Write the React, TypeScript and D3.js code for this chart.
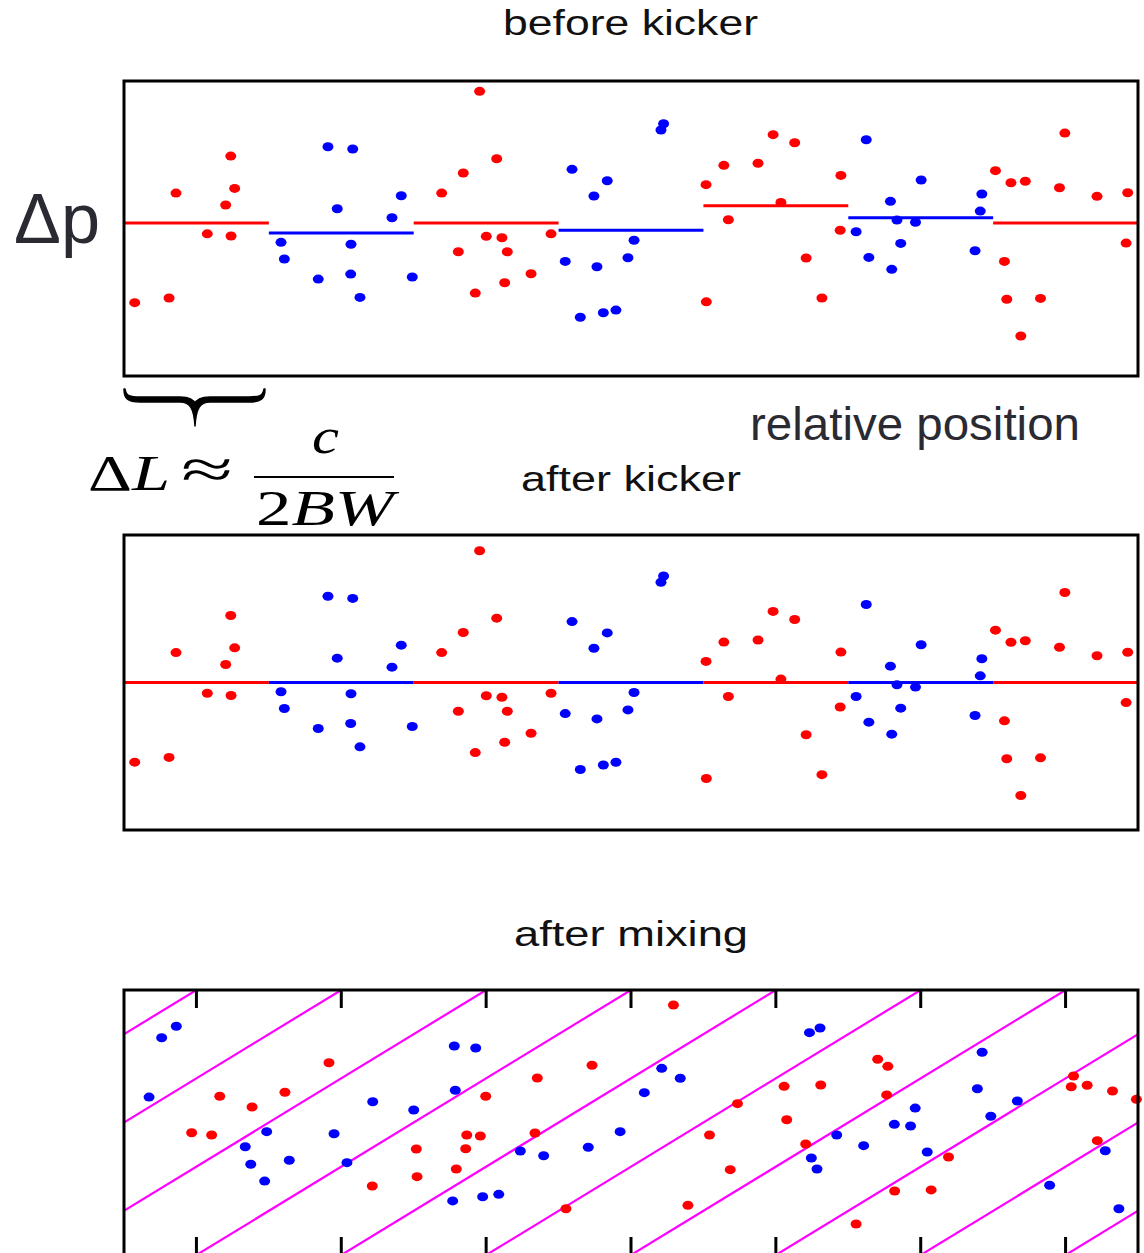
import React, { useEffect, useRef } from 'react'
import * as d3 from 'd3'

// bucket layout (relative position in units of one bucket length ΔL)
const buckets = [0, 1, 2, 3, 4, 5, 6]
const bucketColors = ['#ff0000', '#0000ff', '#ff0000', '#0000ff', '#ff0000', '#0000ff', '#ff0000']
// mean Δp of each bucket before the kicker (what the kicker removes)
const bucketMeans = [0, -0.068, 0, -0.049, 0.117, 0.036, 0]

// [relative position, Δp] before kicker
const redBefore = [
  [0.074, -0.54], [0.311, -0.508], [0.359, 0.203], [0.737, 0.454], [0.764, 0.235], [0.702, 0.122], [0.575, -0.073], [0.739, -0.088],
  [2.455, 0.893], [2.573, 0.436], [2.342, 0.339], [2.193, 0.203], [2.501, -0.09], [2.609, -0.1], [2.308, -0.195], [2.646, -0.195],
  [2.81, -0.344], [2.628, -0.405], [2.425, -0.475], [2.948, -0.073],
  [4.018, 0.26], [4.141, 0.391], [4.377, 0.405], [4.481, 0.599], [4.63, 0.544], [4.949, 0.323], [4.535, 0.14], [4.172, 0.022],
  [4.944, -0.049], [4.709, -0.237], [4.02, -0.534], [4.818, -0.508],
  [6.016, 0.355], [6.123, 0.273], [6.222, 0.283], [6.495, 0.61], [6.458, 0.239], [6.717, 0.181], [6.929, 0.205], [6.918, -0.136],
  [6.078, -0.26], [6.094, -0.517], [6.327, -0.511], [6.191, -0.766]
]
const blueBefore = [
  [1.408, 0.517], [1.579, 0.502], [1.914, 0.185], [1.472, 0.097], [1.85, 0.036], [1.084, -0.131], [1.567, -0.144], [1.107, -0.244],
  [1.341, -0.38], [1.565, -0.346], [1.99, -0.366], [1.629, -0.504],
  [3.093, 0.364], [3.336, 0.287], [3.244, 0.183], [3.725, 0.673], [3.707, 0.631], [3.521, -0.117], [3.046, -0.26], [3.265, -0.296],
  [3.479, -0.235], [3.15, -0.639], [3.309, -0.608], [3.396, -0.59],
  [5.124, 0.565], [5.503, 0.292], [5.291, 0.147], [5.336, 0.02], [5.464, 0.005], [5.054, -0.059], [5.362, -0.138], [5.142, -0.233],
  [5.3, -0.314], [5.922, 0.197], [5.911, 0.081], [5.875, -0.188]
]

// [relative position, Δp] after mixing
const redMixed = [
  [0.661, 0.198], [0.884, 0.117], [1.111, 0.228], [1.415, 0.451], [0.467, -0.077], [0.605, -0.094], [2.853, 0.336], [2.497, 0.198],
  [2.366, -0.094], [2.46, -0.102], [2.359, -0.198], [2.837, -0.079], [2.018, -0.2], [2.023, -0.409], [2.294, -0.351], [1.714, -0.479],
  [3.051, -0.651], [3.793, 0.887], [3.231, 0.432], [4.557, 0.273], [4.81, 0.283], [5.203, 0.477], [5.273, 0.424], [5.265, 0.208],
  [4.235, 0.142], [4.575, 0.021], [4.042, -0.094], [4.706, -0.162], [4.185, -0.356], [3.893, -0.625], [5.692, -0.26], [5.32, -0.517],
  [5.572, -0.509], [5.054, -0.766], [6.555, 0.351], [6.539, 0.27], [6.649, 0.281], [6.824, 0.238], [6.989, 0.175], [6.719, -0.137]
]
const blueMixed = [
  [0.361, 0.726], [0.26, 0.64], [0.173, 0.192], [0.985, -0.069], [0.837, -0.183], [0.875, -0.315], [1.141, -0.285], [0.971, -0.442],
  [1.45, -0.085], [1.539, -0.303], [1.717, 0.157], [2.0, 0.094], [2.28, 0.577], [2.428, 0.562], [2.287, 0.243], [2.736, -0.215],
  [2.897, -0.251], [2.269, -0.592], [2.476, -0.56], [2.587, -0.542], [3.712, 0.409], [3.84, 0.334], [3.592, 0.225], [3.425, -0.069],
  [3.205, -0.187], [4.732, 0.678], [4.805, 0.713], [5.924, 0.53], [5.891, 0.255], [6.167, 0.162], [5.984, 0.047], [5.462, 0.109],
  [5.318, -0.014], [5.43, -0.026], [4.92, -0.094], [5.106, -0.175], [4.745, -0.268], [4.784, -0.351], [5.545, -0.223], [6.39, -0.474],
  [6.774, -0.213], [6.868, -0.651]
]

// sheared bucket boundaries after mixing: position = offset + shear * Δp
const mixOffsets = [-1, 0, 1, 2, 3, 4, 5, 6, 7, 8]
const mixShear = 1.5
const mixTicks = [0.5, 1.5, 2.5, 3.5, 4.5, 5.5, 6.5]

const W = 1144, H = 1253
const left = 124, right = 1138

function App() {
  const ref = useRef(null)

  useEffect(() => {
    const svg = d3.select(ref.current)
    svg.selectAll('.plot').remove()
    const g = svg.append('g').attr('class', 'plot')

    const x = d3.scaleLinear().domain([0, 7]).range([left, right])
    const y1 = d3.scaleLinear().domain([-1.037, 0.963]).range([376, 81])
    const y2 = d3.scaleLinear().domain([-1, 1]).range([830, 535])
    const y3 = d3.scaleLinear().domain([-1, 1]).range([1255, 990])

    const bucketOf = (px) => Math.min(6, Math.floor(px))

    const dots = (sel, data, y, color, shift) => {
      sel.append('g').selectAll('ellipse')
        .data(data)
        .join('ellipse')
        .attr('cx', d => x(d[0]))
        .attr('cy', d => y(d[1] - (shift ? bucketMeans[bucketOf(d[0])] : 0)))
        .attr('rx', 5.5)
        .attr('ry', 4.5)
        .attr('fill', color)
    }

    const frame = (y) => {
      g.append('rect')
        .attr('x', left).attr('y', y.range()[1])
        .attr('width', right - left).attr('height', y.range()[0] - y.range()[1])
        .attr('fill', 'none').attr('stroke', '#000').attr('stroke-width', 3)
    }

    // before kicker
    g.append('g').selectAll('line')
      .data(buckets)
      .join('line')
      .attr('x1', d => x(d)).attr('x2', d => x(d + 1))
      .attr('y1', d => y1(bucketMeans[d])).attr('y2', d => y1(bucketMeans[d]))
      .attr('stroke', d => bucketColors[d]).attr('stroke-width', 3)
    dots(g, redBefore, y1, '#ff0000', false)
    dots(g, blueBefore, y1, '#0000ff', false)
    frame(y1)

    // after kicker
    g.append('g').selectAll('line')
      .data(buckets)
      .join('line')
      .attr('x1', d => x(d)).attr('x2', d => x(d + 1))
      .attr('y1', y2(0)).attr('y2', y2(0))
      .attr('stroke', d => bucketColors[d]).attr('stroke-width', 3)
    dots(g, redBefore, y2, '#ff0000', true)
    dots(g, blueBefore, y2, '#0000ff', true)
    frame(y2)

    // after mixing
    g.append('clipPath').attr('id', 'mixclip')
      .append('rect').attr('x', left).attr('y', 990).attr('width', right - left).attr('height', 265)
    g.append('g').attr('clip-path', 'url(#mixclip)')
      .selectAll('line')
      .data(mixOffsets)
      .join('line')
      .attr('x1', d => x(d - mixShear)).attr('y1', y3(-1))
      .attr('x2', d => x(d + mixShear)).attr('y2', y3(1))
      .attr('stroke', '#ff00ff').attr('stroke-width', 2.2)
    dots(g, redMixed, y3, '#ff0000', false)
    dots(g, blueMixed, y3, '#0000ff', false)
    frame(y3)
    const ticks = g.append('g')
    ticks.selectAll('.tt').data(mixTicks).join('line').attr('class', 'tt')
      .attr('x1', d => x(d)).attr('x2', d => x(d))
      .attr('y1', y3(1)).attr('y2', y3(1) + 18)
      .attr('stroke', '#000').attr('stroke-width', 3)
    ticks.selectAll('.tb').data(mixTicks).join('line').attr('class', 'tb')
      .attr('x1', d => x(d)).attr('x2', d => x(d))
      .attr('y1', y3(-1)).attr('y2', y3(-1) - 18)
      .attr('stroke', '#000').attr('stroke-width', 3)
  }, [])

  const title = { fontFamily: '"Liberation Sans", Arial, sans-serif', fontSize: 35, fill: '#111' }
  const note = { fontFamily: '"Liberation Sans", Arial, sans-serif', fill: '#2a2a33' }
  const tex = { fontFamily: '"Liberation Serif", "DejaVu Serif", serif', fontSize: 50, fill: '#000' }

  return (
    <svg ref={ref} width={W} height={H} style={{ position: 'absolute', left: 0, top: 0, background: '#fff' }}>
      <text x={503} y={35} textLength={255} lengthAdjust="spacingAndGlyphs" style={title}>before kicker</text>
      <text x={521} y={491} textLength={220} lengthAdjust="spacingAndGlyphs" style={title}>after kicker</text>
      <text x={514} y={946} textLength={234} lengthAdjust="spacingAndGlyphs" style={title}>after mixing</text>

      <text x={14} y={243} textLength={86} lengthAdjust="spacingAndGlyphs" style={{ ...note, fontSize: 70 }}>Δp</text>
      <text x={750} y={440} textLength={330} lengthAdjust="spacingAndGlyphs" style={{ ...note, fontSize: 47 }}>relative position</text>

      <path d="M124,389 C124,399 128,402 140,402 L180,402 C190,402 194,408 195,426 C196,408 200,402 210,402 L249,402 C261,402 265,399 265,389
               L264,389 C263,396 259,397 249,397 L210,397 C200,397 196,400 195,404 C194,400 190,397 180,397 L140,397 C130,397 126,396 125,389 Z"
        fill="#000" stroke="#000" strokeWidth={1.5} strokeLinejoin="round" />

      <text x={88} y={490} textLength={82} lengthAdjust="spacingAndGlyphs" style={tex}>Δ<tspan fontStyle="italic">L</tspan></text>
      <text x={181} y={488} textLength={52} lengthAdjust="spacingAndGlyphs" style={{ ...tex, fontSize: 56 }}>≈</text>
      <text x={312} y={453} textLength={27} lengthAdjust="spacingAndGlyphs" style={{ ...tex, fontStyle: 'italic' }}>c</text>
      <line x1={254} x2={394} y1={477} y2={477} stroke="#000" strokeWidth={1.8} />
      <text x={256} y={525} textLength={138} lengthAdjust="spacingAndGlyphs" style={tex}>2<tspan fontStyle="italic">BW</tspan></text>
    </svg>
  )
}

export default App
